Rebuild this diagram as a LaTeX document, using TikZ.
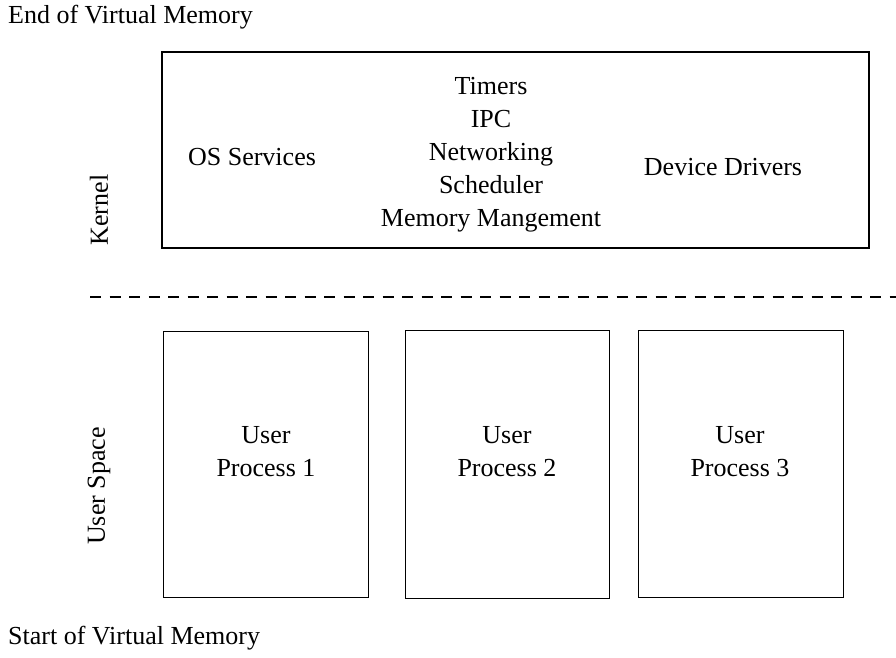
\documentclass[tikz,border=0pt]{standalone}
\usepackage{fontspec}
\setmainfont{Liberation Serif}
\begin{document}
\begin{tikzpicture}[x=1pt,y=-1pt,
  box/.style={draw,line width=1.3pt},
  lbl/.style={font=\fontsize{26}{33}\selectfont,align=center,inner sep=0pt},
  side/.style={font=\fontsize{26}{33}\selectfont,rotate=90,inner sep=0pt}]
\useasboundingbox (0,0) rectangle (896,657);
\draw[box] (162,52) rectangle (869,248);
\node[box,minimum width=205pt,minimum height=266pt,inner sep=0pt,anchor=north west] (u1) at (163,331) {};
\node[box,minimum width=204pt,minimum height=268pt,inner sep=0pt,anchor=north west] (u2) at (405,330) {};
\node[box,minimum width=205pt,minimum height=267pt,inner sep=0pt,anchor=north west] (u3) at (638,330) {};
\coordinate (dl) at (90,297);
\coordinate (dr) at (896,297);
\draw[line width=1.3pt,dash pattern=on 11pt off 8.5pt] (dl) -- (dr);
\node[lbl,anchor=west] (end) at (8,17) {End of Virtual Memory};
\node[lbl,anchor=west] (start) at (8,638) {Start of Virtual Memory};
\node[side] (kern) at (99,210) {Kernel};
\node[side] (us) at (99,486) {User Space};
\node[lbl] (os) at (252,157) {OS Services};
\node[lbl] (dd) at (723,167) {Device Drivers};
\node[lbl] (mid) at (491,155) {Timers\\IPC\\Networking\\Scheduler\\Memory Mangement};
\node[lbl] (p1) at (266,452) {User\\Process 1};
\node[lbl] (p2) at (507,452) {User\\Process 2};
\node[lbl] (p3) at (740,452) {User\\Process 3};
\end{tikzpicture}
\end{document}
